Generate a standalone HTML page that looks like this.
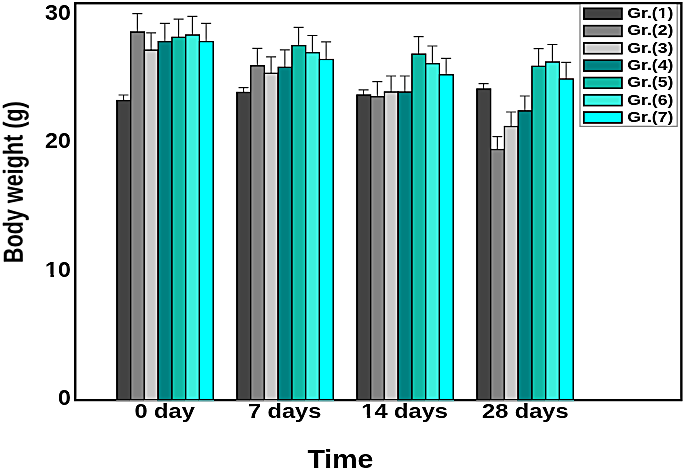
<!DOCTYPE html>
<html><head><meta charset="utf-8"><title>Body weight chart</title>
<style>
html,body{margin:0;padding:0;background:#fff;}
body{width:685px;height:470px;overflow:hidden;}
svg{display:block;}
text{font-family:"Liberation Sans",Arial,sans-serif;font-weight:bold;fill:#000;}
</style></head><body>
<svg width="685" height="470" viewBox="0 0 685 470">
<defs><filter id="soft" x="0" y="0" width="685" height="470" filterUnits="userSpaceOnUse" color-interpolation-filters="sRGB">
<feGaussianBlur in="SourceGraphic" stdDeviation="0.65" result="a"/>
<feGaussianBlur in="SourceGraphic" stdDeviation="1.8" result="b"/>
<feComposite in="a" in2="b" operator="arithmetic" k1="0" k2="1.7" k3="-0.7" k4="0"/>
</filter></defs>
<g filter="url(#soft)">
<rect x="0" y="0" width="685" height="470" fill="#fff"/>

<path d="M123.58 101.40V95.00M118.58 95.00H128.58" stroke="#484848" stroke-width="1.2" fill="none"/>
<path d="M137.34 32.90V13.60M132.34 13.60H142.34" stroke="#484848" stroke-width="1.2" fill="none"/>
<path d="M151.10 51.00V32.80M146.10 32.80H156.10" stroke="#484848" stroke-width="1.2" fill="none"/>
<path d="M164.86 42.50V23.40M159.86 23.40H169.86" stroke="#484848" stroke-width="1.2" fill="none"/>
<path d="M178.62 38.20V19.10M173.62 19.10H183.62" stroke="#484848" stroke-width="1.2" fill="none"/>
<path d="M192.38 35.90V16.40M187.38 16.40H197.38" stroke="#484848" stroke-width="1.2" fill="none"/>
<path d="M206.14 42.50V23.40M201.14 23.40H211.14" stroke="#484848" stroke-width="1.2" fill="none"/>
<path d="M243.58 93.30V87.70M238.58 87.70H248.58" stroke="#484848" stroke-width="1.2" fill="none"/>
<path d="M257.34 66.70V48.30M252.34 48.30H262.34" stroke="#484848" stroke-width="1.2" fill="none"/>
<path d="M271.10 74.20V56.80M266.10 56.80H276.10" stroke="#484848" stroke-width="1.2" fill="none"/>
<path d="M284.86 68.20V49.80M279.86 49.80H289.86" stroke="#484848" stroke-width="1.2" fill="none"/>
<path d="M298.62 46.50V27.40M293.62 27.40H303.62" stroke="#484848" stroke-width="1.2" fill="none"/>
<path d="M312.38 53.60V35.50M307.38 35.50H317.38" stroke="#484848" stroke-width="1.2" fill="none"/>
<path d="M326.14 60.40V41.90M321.14 41.90H331.14" stroke="#484848" stroke-width="1.2" fill="none"/>
<path d="M363.58 95.90V89.80M358.58 89.80H368.58" stroke="#484848" stroke-width="1.2" fill="none"/>
<path d="M377.34 97.60V81.70M372.34 81.70H382.34" stroke="#484848" stroke-width="1.2" fill="none"/>
<path d="M391.10 92.90V76.00M386.10 76.00H396.10" stroke="#484848" stroke-width="1.2" fill="none"/>
<path d="M404.86 92.90V76.00M399.86 76.00H409.86" stroke="#484848" stroke-width="1.2" fill="none"/>
<path d="M418.62 55.00V36.60M413.62 36.60H423.62" stroke="#484848" stroke-width="1.2" fill="none"/>
<path d="M432.38 64.60V46.00M427.38 46.00H437.38" stroke="#484848" stroke-width="1.2" fill="none"/>
<path d="M446.14 75.70V58.30M441.14 58.30H451.14" stroke="#484848" stroke-width="1.2" fill="none"/>
<path d="M483.58 89.90V83.60M478.58 83.60H488.58" stroke="#484848" stroke-width="1.2" fill="none"/>
<path d="M497.34 150.40V136.60M492.34 136.60H502.34" stroke="#484848" stroke-width="1.2" fill="none"/>
<path d="M511.10 127.40V112.00M506.10 112.00H516.10" stroke="#484848" stroke-width="1.2" fill="none"/>
<path d="M524.86 111.80V96.00M519.86 96.00H529.86" stroke="#484848" stroke-width="1.2" fill="none"/>
<path d="M538.62 67.20V48.70M533.62 48.70H543.62" stroke="#484848" stroke-width="1.2" fill="none"/>
<path d="M552.38 62.90V44.50M547.38 44.50H557.38" stroke="#484848" stroke-width="1.2" fill="none"/>
<path d="M566.14 79.90V62.30M561.14 62.30H571.14" stroke="#484848" stroke-width="1.2" fill="none"/>
<rect x="116.90" y="100.50" width="13.76" height="299.40" fill="#424242" stroke="#000" stroke-width="1.3"/>
<rect x="130.66" y="32.00" width="13.76" height="367.90" fill="#828282" stroke="#000" stroke-width="1.3"/>
<rect x="144.42" y="50.10" width="13.76" height="349.80" fill="#c8c8c8" stroke="#000" stroke-width="1.3"/>
<rect x="158.18" y="41.60" width="13.76" height="358.30" fill="#008080" stroke="#000" stroke-width="1.3"/>
<rect x="171.94" y="37.30" width="13.76" height="362.60" fill="#10b8a4" stroke="#000" stroke-width="1.3"/>
<rect x="185.70" y="35.00" width="13.76" height="364.90" fill="#3cf0dc" stroke="#000" stroke-width="1.3"/>
<rect x="199.46" y="41.60" width="13.76" height="358.30" fill="#00ffff" stroke="#000" stroke-width="1.3"/>
<rect x="236.90" y="92.40" width="13.76" height="307.50" fill="#424242" stroke="#000" stroke-width="1.3"/>
<rect x="250.66" y="65.80" width="13.76" height="334.10" fill="#828282" stroke="#000" stroke-width="1.3"/>
<rect x="264.42" y="73.30" width="13.76" height="326.60" fill="#c8c8c8" stroke="#000" stroke-width="1.3"/>
<rect x="278.18" y="67.30" width="13.76" height="332.60" fill="#008080" stroke="#000" stroke-width="1.3"/>
<rect x="291.94" y="45.60" width="13.76" height="354.30" fill="#10b8a4" stroke="#000" stroke-width="1.3"/>
<rect x="305.70" y="52.70" width="13.76" height="347.20" fill="#3cf0dc" stroke="#000" stroke-width="1.3"/>
<rect x="319.46" y="59.50" width="13.76" height="340.40" fill="#00ffff" stroke="#000" stroke-width="1.3"/>
<rect x="356.90" y="95.00" width="13.76" height="304.90" fill="#424242" stroke="#000" stroke-width="1.3"/>
<rect x="370.66" y="96.70" width="13.76" height="303.20" fill="#828282" stroke="#000" stroke-width="1.3"/>
<rect x="384.42" y="92.00" width="13.76" height="307.90" fill="#c8c8c8" stroke="#000" stroke-width="1.3"/>
<rect x="398.18" y="92.00" width="13.76" height="307.90" fill="#008080" stroke="#000" stroke-width="1.3"/>
<rect x="411.94" y="54.10" width="13.76" height="345.80" fill="#10b8a4" stroke="#000" stroke-width="1.3"/>
<rect x="425.70" y="63.70" width="13.76" height="336.20" fill="#3cf0dc" stroke="#000" stroke-width="1.3"/>
<rect x="439.46" y="74.80" width="13.76" height="325.10" fill="#00ffff" stroke="#000" stroke-width="1.3"/>
<rect x="476.90" y="89.00" width="13.76" height="310.90" fill="#424242" stroke="#000" stroke-width="1.3"/>
<rect x="490.66" y="149.50" width="13.76" height="250.40" fill="#828282" stroke="#000" stroke-width="1.3"/>
<rect x="504.42" y="126.50" width="13.76" height="273.40" fill="#c8c8c8" stroke="#000" stroke-width="1.3"/>
<rect x="518.18" y="110.90" width="13.76" height="289.00" fill="#008080" stroke="#000" stroke-width="1.3"/>
<rect x="531.94" y="66.30" width="13.76" height="333.60" fill="#10b8a4" stroke="#000" stroke-width="1.3"/>
<rect x="545.70" y="62.00" width="13.76" height="337.90" fill="#3cf0dc" stroke="#000" stroke-width="1.3"/>
<rect x="559.46" y="79.00" width="13.76" height="320.90" fill="#00ffff" stroke="#000" stroke-width="1.3"/>
<rect x="75.3" y="3.1" width="606.1" height="397.05" fill="none" stroke="#111" stroke-width="2.3"/>
<rect x="116.10" y="400.2" width="13.76" height="1.15" fill="#909090"/>
<rect x="129.86" y="400.2" width="13.76" height="1.15" fill="#a4a4a4"/>
<rect x="143.62" y="400.2" width="13.76" height="1.15" fill="#c0c0c0"/>
<rect x="157.38" y="400.2" width="13.76" height="1.15" fill="#5a9a9a"/>
<rect x="171.14" y="400.2" width="13.76" height="1.15" fill="#62b0aa"/>
<rect x="184.90" y="400.2" width="13.76" height="1.15" fill="#78c8c0"/>
<rect x="198.66" y="400.2" width="15.36" height="1.15" fill="#6cc8c8"/>
<rect x="236.10" y="400.2" width="13.76" height="1.15" fill="#909090"/>
<rect x="249.86" y="400.2" width="13.76" height="1.15" fill="#a4a4a4"/>
<rect x="263.62" y="400.2" width="13.76" height="1.15" fill="#c0c0c0"/>
<rect x="277.38" y="400.2" width="13.76" height="1.15" fill="#5a9a9a"/>
<rect x="291.14" y="400.2" width="13.76" height="1.15" fill="#62b0aa"/>
<rect x="304.90" y="400.2" width="13.76" height="1.15" fill="#78c8c0"/>
<rect x="318.66" y="400.2" width="15.36" height="1.15" fill="#6cc8c8"/>
<rect x="356.10" y="400.2" width="13.76" height="1.15" fill="#909090"/>
<rect x="369.86" y="400.2" width="13.76" height="1.15" fill="#a4a4a4"/>
<rect x="383.62" y="400.2" width="13.76" height="1.15" fill="#c0c0c0"/>
<rect x="397.38" y="400.2" width="13.76" height="1.15" fill="#5a9a9a"/>
<rect x="411.14" y="400.2" width="13.76" height="1.15" fill="#62b0aa"/>
<rect x="424.90" y="400.2" width="13.76" height="1.15" fill="#78c8c0"/>
<rect x="438.66" y="400.2" width="15.36" height="1.15" fill="#6cc8c8"/>
<rect x="476.10" y="400.2" width="13.76" height="1.15" fill="#909090"/>
<rect x="489.86" y="400.2" width="13.76" height="1.15" fill="#a4a4a4"/>
<rect x="503.62" y="400.2" width="13.76" height="1.15" fill="#c0c0c0"/>
<rect x="517.38" y="400.2" width="13.76" height="1.15" fill="#5a9a9a"/>
<rect x="531.14" y="400.2" width="13.76" height="1.15" fill="#62b0aa"/>
<rect x="544.90" y="400.2" width="13.76" height="1.15" fill="#78c8c0"/>
<rect x="558.66" y="400.2" width="15.36" height="1.15" fill="#6cc8c8"/>
<rect x="580" y="3.1" width="97.2" height="123.2" fill="#fff" stroke="#9a9a9a" stroke-width="1.3"/>
<line x1="75.3" y1="3.1" x2="681.4" y2="3.1" stroke="#111" stroke-width="2.3"/>
<rect x="583.8" y="8.30" width="38.1" height="10.8" fill="#424242" stroke="#000" stroke-width="1.6"/>
<text transform="translate(627.3 18.00) scale(1.145 1)" font-size="15.4">Gr.(1)</text>
<rect x="583.8" y="25.60" width="38.1" height="10.8" fill="#828282" stroke="#000" stroke-width="1.6"/>
<text transform="translate(627.3 35.30) scale(1.145 1)" font-size="15.4">Gr.(2)</text>
<rect x="583.8" y="42.90" width="38.1" height="10.8" fill="#c8c8c8" stroke="#000" stroke-width="1.6"/>
<text transform="translate(627.3 52.60) scale(1.145 1)" font-size="15.4">Gr.(3)</text>
<rect x="583.8" y="60.20" width="38.1" height="10.8" fill="#008080" stroke="#000" stroke-width="1.6"/>
<text transform="translate(627.3 69.90) scale(1.145 1)" font-size="15.4">Gr.(4)</text>
<rect x="583.8" y="77.50" width="38.1" height="10.8" fill="#10b8a4" stroke="#000" stroke-width="1.6"/>
<text transform="translate(627.3 87.20) scale(1.145 1)" font-size="15.4">Gr.(5)</text>
<rect x="583.8" y="94.80" width="38.1" height="10.8" fill="#3cf0dc" stroke="#000" stroke-width="1.6"/>
<text transform="translate(627.3 104.50) scale(1.145 1)" font-size="15.4">Gr.(6)</text>
<rect x="583.8" y="112.10" width="38.1" height="10.8" fill="#00ffff" stroke="#000" stroke-width="1.6"/>
<text transform="translate(627.3 121.80) scale(1.145 1)" font-size="15.4">Gr.(7)</text>
<text transform="translate(70.8 20.00) scale(1.05 1)" font-size="22" text-anchor="end">30</text>
<text transform="translate(70.8 148.40) scale(1.05 1)" font-size="22" text-anchor="end">20</text>
<text transform="translate(70.8 276.70) scale(1.05 1)" font-size="22" text-anchor="end">10</text>
<text transform="translate(70.8 405.20) scale(1.05 1)" font-size="22" text-anchor="end">0</text>
<text transform="translate(164.6 417.6) scale(1.18 1)" font-size="20" text-anchor="middle">0 day</text>
<text transform="translate(284.6 417.6) scale(1.18 1)" font-size="20" text-anchor="middle">7 days</text>
<text transform="translate(404.6 417.6) scale(1.18 1)" font-size="20" text-anchor="middle">14 days</text>
<text transform="translate(525.3 417.6) scale(1.18 1)" font-size="20" text-anchor="middle">28 days</text>
<rect x="44.6" y="273.85" width="5.9" height="3.6" fill="#fff"/>
<rect x="53.75" y="273.85" width="5.0" height="3.6" fill="#fff"/>
<rect x="361.0" y="414.85" width="6.25" height="3.5" fill="#fff"/>
<rect x="370.25" y="414.85" width="5.0" height="3.5" fill="#fff"/>
<rect x="657.4" y="16.0" width="4.35" height="2.8" fill="#fff"/>
<rect x="664.25" y="16.0" width="3.8" height="2.8" fill="#fff"/>
<text transform="translate(340.4 467.75) scale(1.105 1)" font-size="25.8" text-anchor="middle">Time</text>
<text transform="translate(22.2 182.2) rotate(-90) scale(1 1.25)" font-size="21.6" text-anchor="middle">Body weight (g)</text>
</g></svg></body></html>
